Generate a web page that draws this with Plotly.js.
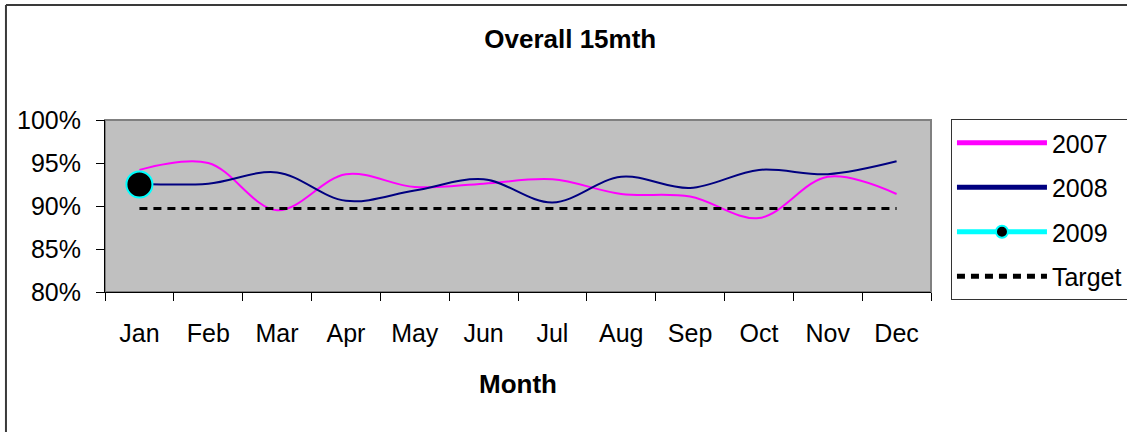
<!DOCTYPE html>
<html>
<head>
<meta charset="utf-8">
<script src="https://cdn.plot.ly/plotly-3.0.1.min.js"></script>
<style>
  html, body { margin: 0; padding: 0; background: #fff; overflow: hidden; }
  #chart { width: 1127px; height: 432px; }
</style>
</head>
<body>
<div id="chart"></div>
<script>
const months = ["Jan","Feb","Mar","Apr","May","Jun","Jul","Aug","Sep","Oct","Nov","Dec"];
const y2007 = [0.942, 0.950, 0.895, 0.937, 0.922, 0.926, 0.931, 0.914, 0.911, 0.886, 0.934, 0.914];
const y2008 = [0.926, 0.926, 0.939, 0.906, 0.918, 0.931, 0.904, 0.934, 0.921, 0.942, 0.937, 0.952];
const y2009 = [0.925];
const months2009 = ["Jan"];
const target = [0.897, 0.897, 0.897, 0.897, 0.897, 0.897, 0.897, 0.897, 0.897, 0.897, 0.897, 0.897];

const FONT = "Liberation Sans, Arial, sans-serif";

const traces = [
  { x: months, y: y2007, name: "2007", type: "scatter", mode: "lines",
    line: { color: "#FF00FF", width: 2, shape: "spline", smoothing: 1 }, legendgroup: "a" },
  { x: months, y: y2008, name: "2008", type: "scatter", mode: "lines",
    line: { color: "#000080", width: 2, shape: "spline", smoothing: 1 }, legendgroup: "b" },
  { x: months2009, y: y2009, name: "2009", type: "scatter", mode: "lines+markers",
    line: { color: "#00FFFF", width: 2 },
    marker: { color: "#000000", size: 26, line: { color: "#00FFFF", width: 2 } }, legendgroup: "c" },
  { x: months, y: target, name: "Target", type: "scatter", mode: "lines",
    line: { color: "#000000", width: 3, dash: "8px,6px" }, legendgroup: "d" }
];

const layout = {
  width: 1127, height: 432,
  margin: { l: 105, r: 196, t: 120, b: 140, autoexpand: false },
  paper_bgcolor: "#ffffff",
  plot_bgcolor: "#C0C0C0",
  font: { family: FONT, size: 25, color: "#000" },
  showlegend: true,
  title: { text: "<b>Overall 15mth</b>", font: { family: FONT, size: 26, color: "#000" },
           x: 0.506, xref: "container", y: 0.91, yref: "container", yanchor: "middle" },
  xaxis: {
    type: "category", categoryorder: "array", categoryarray: months,
    range: [-0.5, 11.5], automargin: false,
    tickson: "boundaries", ticks: "outside", ticklen: 8, tickwidth: 1, tickcolor: "#000",
    showline: true, linecolor: "#000", linewidth: 1,
    showgrid: false, zeroline: false,
    tickfont: { family: FONT, size: 25, color: "#000" },
    ticklabelstandoff: 19,
    title: { text: "<b>Month</b>", font: { family: FONT, size: 26, color: "#000" }, standoff: 28 }
  },
  yaxis: {
    range: [0.8, 1.0], dtick: 0.05, tickformat: ".0%", automargin: false,
    ticks: "outside", ticklen: 8, tickwidth: 1, tickcolor: "#000",
    showline: true, linecolor: "#000", linewidth: 1,
    showgrid: false, zeroline: false,
    tickfont: { family: FONT, size: 25, color: "#000" },
    ticklabelstandoff: 10
  },
  legend: {
    xref: "container", yref: "container",
    x: 0.8438, xanchor: "left", y: 0.7245, yanchor: "top",
    bgcolor: "#ffffff", bordercolor: "#333333", borderwidth: 1,
    font: { family: FONT, size: 25, color: "#000" },
    traceorder: "grouped", tracegroupgap: 9,
    itemwidth: 90, itemsizing: "constant"
  },
  shapes: [
    { type: "rect", xref: "paper", yref: "paper", x0: 0, x1: 1, y0: 0, y1: 1,
      line: { color: "#808080", width: 2 }, layer: "below" },
    { type: "line", xref: "paper", yref: "paper", x0: -0.1199, x1: 1.5, y0: 1.6686, y1: 1.6686,
      line: { color: "#3a3a3a", width: 2 } },
    { type: "line", xref: "paper", yref: "paper", x0: -0.1199, x1: -0.1199, y0: 1.6686, y1: -1.0,
      line: { color: "#3a3a3a", width: 2 } }
  ]
};

Plotly.newPlot("chart", traces, layout, { displayModeBar: false, staticPlot: true });
</script>
</body>
</html>
